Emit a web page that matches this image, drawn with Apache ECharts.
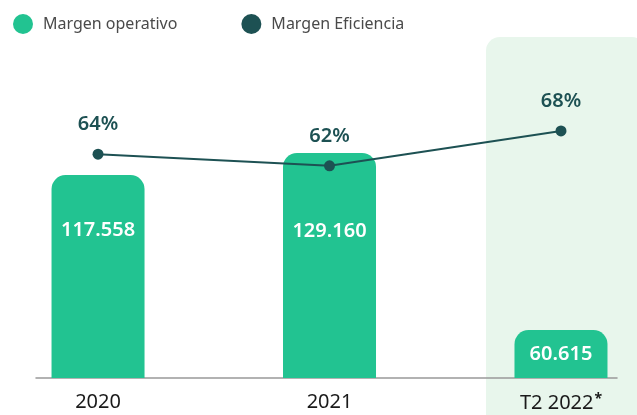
<!DOCTYPE html>
<html>
<head>
<meta charset="utf-8">
<script src="https://cdn.jsdelivr.net/npm/echarts@6/dist/echarts.min.js"></script>
<style>
  html, body { margin: 0; padding: 0; background: #fff; }
  #chart { width: 637px; height: 415px; }
</style>
</head>
<body>
<div id="chart"></div>
<script>
// datos
var categorias = ["2020", "2021", "T2 2022"];
var notas = ["", "", "*"];
var margenOperativo = [117558, 129160, 60615];
var margenEficiencia = [64, 62, 68];
var nombres = ["Margen operativo", "Margen Eficiencia"];

var verde = "#22c391";
var petroleo = "#1d5153";
var fuente = "Noto Sans";

// posicion vertical de la etiqueta dentro de cada barra
var etiquetaY = ["27%", "35%", "50%"];

var chart = echarts.init(document.getElementById("chart"));

function fmtMiles(v) {
  return String(v).replace(/\B(?=(\d{3})+(?!\d))/g, ".");
}

var option = {
  animation: false,
  textStyle: { fontFamily: fuente },
  legend: {
    data: nombres,
    left: 8,
    top: 9,
    icon: "circle",
    itemWidth: 20,
    itemHeight: 20,
    itemGap: 64,
    textStyle: { color: "#4a4a4a", fontSize: 16, fontFamily: fuente, padding: [0, 0, 0, 5] }
  },
  grid: { left: 36, right: 20, top: 40, bottom: 37 },
  xAxis: {
    type: "value",
    min: -0.268,
    max: 2.242,
    splitLine: { show: false },
    axisTick: { show: false },
    axisLine: { show: true, lineStyle: { color: "#999", width: 1.5 } },
    axisLabel: {
      customValues: [0, 1, 2],
      formatter: function (v) {
        var i = Math.round(v);
        return "{t|" + categorias[i] + "}" + (notas[i] ? "{s|" + notas[i] + "}" : "");
      },
      margin: 14,
      rich: {
        t: { color: "#1a1a1a", fontSize: 20, fontFamily: fuente },
        s: { color: "#1a1a1a", fontSize: 14, fontFamily: fuente, fontWeight: "bold", padding: [0, 0, 9, 1] }
      }
    }
  },
  yAxis: [
    { type: "log", min: 49400, max: 209300, show: false },
    { type: "value", min: 25.55, max: 83.62, show: false }
  ],
  series: [
    {
      name: nombres[0],
      type: "bar",
      barWidth: 93,
      z: 2,
      itemStyle: { color: verde, borderRadius: [14, 14, 0, 0] },
      data: margenOperativo.map(function (v, i) {
        return {
          value: [i, v],
          label: { position: ["50%", etiquetaY[i]] }
        };
      }),
      label: {
        show: true,
        align: "center",
        verticalAlign: "middle",
        color: "#fff",
        fontSize: 20,
        fontWeight: 600,
        fontFamily: fuente,
        formatter: function (p) { return fmtMiles(p.value[1]); }
      }
    },
    {
      name: nombres[1],
      type: "line",
      yAxisIndex: 1,
      z: 3,
      symbol: "circle",
      symbolSize: 11,
      itemStyle: { color: petroleo },
      lineStyle: { color: petroleo, width: 2 },
      data: margenEficiencia.map(function (v, i) { return [i, v]; }),
      label: {
        show: true,
        position: "top",
        distance: 14,
        color: petroleo,
        fontSize: 20,
        fontWeight: 600,
        fontFamily: fuente,
        formatter: function (p) { return p.value[1] + "%"; }
      }
    }
  ]
};

chart.setOption(option);

// fondo resaltado de la ultima columna
var cx = chart.convertToPixel({ gridIndex: 0 }, [2, 60615])[0];
chart.setOption({
  graphic: [{
    type: "rect",
    z: -10,
    silent: true,
    shape: { x: cx - 75, y: 37, width: 160, height: 400, r: 14 },
    style: { fill: "#e8f6ec" }
  }]
});
</script>
</body>
</html>
